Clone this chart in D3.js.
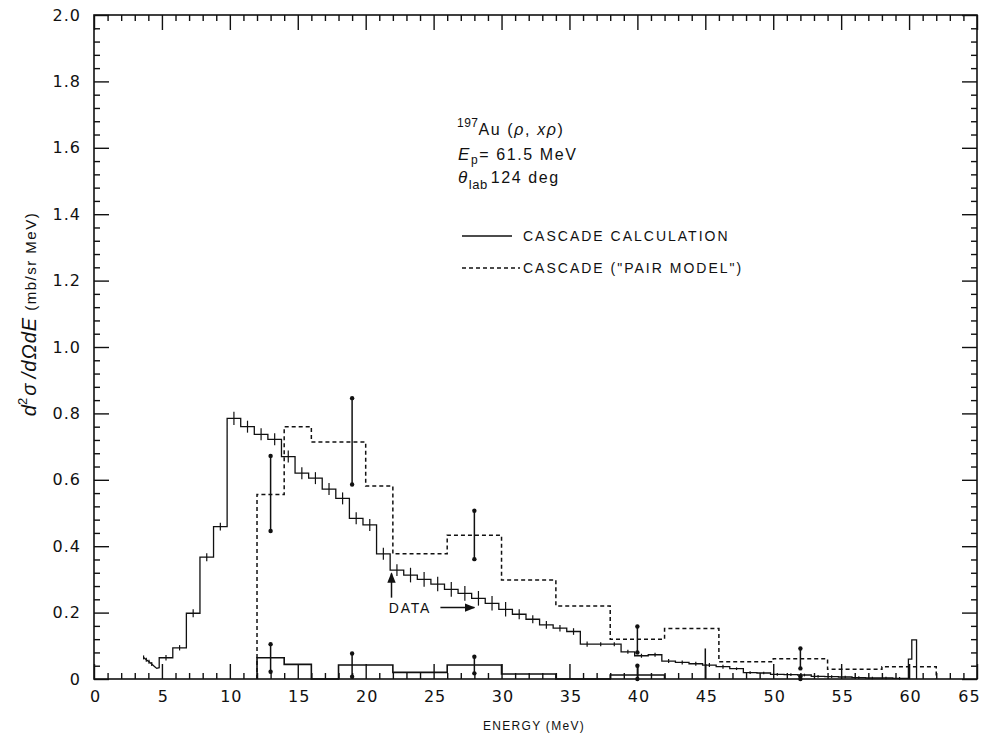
<!DOCTYPE html>
<html lang="en">
<head>
<meta charset="utf-8">
<title>197Au (p,xp) cascade</title>
<script type="text/javascript" src="https://cdnjs.cloudflare.com/ajax/libs/d3/7.8.5/d3.min.js" charset="utf-8"></script>
<style>
	body { margin: 0; background: #fff; }
	text { fill: #111; }
</style>
</head>
<body>
<script type="text/javascript">

// ticks
var xTicks = [0, 5, 10, 15, 20, 25, 30, 35, 40, 45, 50, 55, 60, 65];
var xTickLabels = ["0", "5", "10", "15", "20", "25", "30", "35", "40", "45", "50", "55", "60", "65"];
var yTicks = [0, 0.2, 0.4, 0.6, 0.8, 1.0, 1.2, 1.4, 1.6, 1.8, 2.0];
var yTickLabels = ["0", "0.2", "0.4", "0.6", "0.8", "1.0", "1.2", "1.4", "1.6", "1.8", "2.0"];

// measured spectrum (1 MeV bins), low edge of each bin
var dataBinLo = [4.8, 5.8, 6.8, 7.8, 8.8, 9.8, 10.8, 11.8, 12.8, 13.8,
	14.8, 15.8, 16.8, 17.8, 18.8, 19.8, 20.8, 21.8, 22.8, 23.8,
	24.8, 25.8, 26.8, 27.8, 28.8, 29.8, 30.8, 31.8, 32.8, 33.8,
	34.8, 35.8, 36.8, 37.8, 38.8, 39.8, 40.8, 41.8, 42.8, 43.8,
	44.8, 45.8, 46.8, 47.8, 48.8, 49.8, 50.8, 51.8, 52.8, 53.8,
	54.8, 55.8, 56.8, 57.8, 58.8];
var dataVal = [0.064, 0.094, 0.198, 0.367, 0.459, 0.785, 0.760, 0.737, 0.722, 0.670,
	0.620, 0.605, 0.572, 0.544, 0.484, 0.464, 0.377, 0.328, 0.313, 0.300,
	0.286, 0.270, 0.258, 0.243, 0.228, 0.210, 0.195, 0.180, 0.163, 0.153,
	0.143, 0.105, 0.105, 0.105, 0.082, 0.070, 0.073, 0.054, 0.050, 0.046,
	0.042, 0.037, 0.031, 0.019, 0.018, 0.014, 0.013, 0.012, 0.008, 0.007,
	0.006, 0.004, 0.003, 0.003, 0.002];
var dataErr = [0.008, 0.008, 0.012, 0.012, 0.012, 0.020, 0.018, 0.018, 0.018, 0.018,
	0.018, 0.018, 0.018, 0.018, 0.018, 0.018, 0.018, 0.018, 0.022, 0.022,
	0.022, 0.022, 0.022, 0.022, 0.022, 0.022, 0.015, 0.012, 0.012, 0.010,
	0.010, 0.008, 0.006, 0.006, 0.006, 0.006, 0.006, 0.006, 0.006, 0.006,
	0.006, 0.006, 0.004, 0.004, 0.004, 0.004, 0.004, 0.004, 0.004, 0.004,
	0.004, 0.004, 0.004, 0.004, 0.004];
// low energy tail below the first bin
var lowE = [3.65, 3.85, 4.05, 4.25, 4.45, 4.62, 4.8];
var lowVal = [0.065, 0.058, 0.052, 0.045, 0.038, 0.032, 0.034];
var lowErr = [0.006, 0.006, 0.006, 0.006, 0, 0, 0];
// elastic peak
var peakEdges = [59.95, 60.2, 60.55];
var peakVal = [0.060, 0.118];

// cascade calculation (solid)
var cascEdges = [12, 14, 16, 18, 22, 26, 30, 34, 38, 42];
var cascVal = [0.064, 0.044, 0, 0.042, 0.020, 0.042, 0.015, 0, 0.012];
var cascErrX = [13, 19, 28, 40, 52];
var cascErrLo = [0.022, 0.007, 0.017, 0, 0];
var cascErrHi = [0.105, 0.077, 0.067, 0.040, 0.008];
var cascBarX = [45];
var cascBarHi = [0.092];

// cascade pair model (dashed)
var pairEdges = [12, 14, 16, 20, 22, 26, 30, 34, 38, 42, 46, 50, 54, 58, 62];
var pairVal = [0.556, 0.760, 0.714, 0.581, 0.377, 0.433, 0.298, 0.220, 0.120, 0.152, 0.052, 0.061, 0.029, 0.037];
var pairErrX = [13, 19, 28, 40, 52];
var pairErrLo = [0.446, 0.586, 0.361, 0.080, 0.032];
var pairErrHi = [0.672, 0.846, 0.507, 0.158, 0.092];


var W = 983, H = 738;
var pLeft = 94, pRight = 977, pTop = 15, pBottom = 679;

var svg = d3.select("body")
	.append("svg")
	.attr("width", W)
	.attr("height", H)
	.style("font-family", "'Liberation Sans', Arial, sans-serif");

var x = d3.scaleLinear().domain([0, 65]).range([pLeft, pRight]);
var y = d3.scaleLinear().domain([0, 2]).range([pBottom, pTop]);

var xMinor = d3.range(0, 66).filter(function(d){ return d % 5 !== 0; });
var yMinor = d3.range(0, 51).filter(function(d){ return d % 5 !== 0; })
	.map(function(d){ return d * 0.04; });

function styleAxis(g){
	g.select(".domain").remove();
	g.selectAll("line").attr("stroke", "#111").attr("stroke-width", 1.4);
	g.selectAll("text")
		.attr("fill", "#222")
		.style("font-family", "'DejaVu Sans', sans-serif")
		.style("font-size", "16px")
		.style("letter-spacing", "1px");
}

// bottom
svg.append("g").attr("transform", "translate(0," + pBottom + ")")
	.call(d3.axisBottom(x).tickValues(xTicks).tickSizeInner(-15).tickSizeOuter(0).tickPadding(12)
		.tickFormat(function(d, i){ return xTickLabels[i]; }))
	.call(styleAxis)
	.call(function(g){
		g.selectAll(".tick text").attr("dx", function(d){ return d === 65 ? -8 : 1; });
	});
svg.append("g").attr("transform", "translate(0," + pBottom + ")")
	.call(d3.axisBottom(x).tickValues(xMinor).tickSizeInner(-6).tickSizeOuter(0).tickFormat(""))
	.call(styleAxis);
// top
svg.append("g").attr("transform", "translate(0," + pTop + ")")
	.call(d3.axisTop(x).tickValues(xTicks).tickSizeInner(-15).tickSizeOuter(0).tickFormat(""))
	.call(styleAxis);
svg.append("g").attr("transform", "translate(0," + pTop + ")")
	.call(d3.axisTop(x).tickValues(xMinor).tickSizeInner(-6).tickSizeOuter(0).tickFormat(""))
	.call(styleAxis);
// left
svg.append("g").attr("transform", "translate(" + pLeft + ",0)")
	.call(d3.axisLeft(y).tickValues(yTicks).tickSizeInner(-15).tickSizeOuter(0).tickPadding(13)
		.tickFormat(function(d, i){ return yTickLabels[i]; }))
	.call(styleAxis);
svg.append("g").attr("transform", "translate(" + pLeft + ",0)")
	.call(d3.axisLeft(y).tickValues(yMinor).tickSizeInner(-6).tickSizeOuter(0).tickFormat(""))
	.call(styleAxis);
// right
svg.append("g").attr("transform", "translate(" + pRight + ",0)")
	.call(d3.axisRight(y).tickValues(yTicks).tickSizeInner(-15).tickSizeOuter(0).tickFormat(""))
	.call(styleAxis);
svg.append("g").attr("transform", "translate(" + pRight + ",0)")
	.call(d3.axisRight(y).tickValues(yMinor).tickSizeInner(-6).tickSizeOuter(0).tickFormat(""))
	.call(styleAxis);

svg.append("rect")
	.attr("x", pLeft).attr("y", pTop)
	.attr("width", pRight - pLeft).attr("height", pBottom - pTop)
	.attr("fill", "none").attr("stroke", "#111").attr("stroke-width", 1.6);

var line = d3.line()
	.x(function(d){ return x(d[0]); })
	.y(function(d){ return y(d[1]); });

function stepPoints(edges, vals){
	var pts = [[edges[0], 0]];
	vals.forEach(function(v, i){
		pts.push([edges[i], v]);
		pts.push([edges[i + 1], v]);
	});
	pts.push([edges[edges.length - 1], 0]);
	return pts;
}

// measured spectrum
var dataPts = lowE.map(function(e, i){ return [e, lowVal[i]]; });
dataBinLo.forEach(function(lo, i){
	dataPts.push([lo, dataVal[i]]);
	dataPts.push([lo + 1, dataVal[i]]);
});
dataPts.push([peakEdges[0], dataVal[dataVal.length - 1]]);
peakVal.forEach(function(v, i){
	dataPts.push([peakEdges[i], v]);
	dataPts.push([peakEdges[i + 1], v]);
});
dataPts.push([peakEdges[peakEdges.length - 1], 0]);

svg.append("path")
	.attr("d", line(dataPts))
	.attr("fill", "none").attr("stroke", "#111").attr("stroke-width", 1.3);

var crosses = dataBinLo.map(function(lo, i){ return [lo + 0.5, dataVal[i], dataErr[i]]; })
	.concat(lowE.map(function(e, i){ return [e, lowVal[i], lowErr[i]]; }).filter(function(d){ return d[2] > 0; }));

svg.append("g").selectAll("line")
	.data(crosses)
	.enter()
	.append("line")
	.attr("x1", function(d){ return x(d[0]); })
	.attr("x2", function(d){ return x(d[0]); })
	.attr("y1", function(d){ return y(d[1] - d[2]); })
	.attr("y2", function(d){ return y(d[1] + d[2]); })
	.attr("stroke", "#111").attr("stroke-width", 1.2);

// cascade histogram
svg.append("path")
	.attr("d", line(stepPoints(cascEdges, cascVal)))
	.attr("fill", "none").attr("stroke", "#111").attr("stroke-width", 1.6);

// pair model histogram
svg.append("path")
	.attr("d", line(stepPoints(pairEdges, pairVal)))
	.attr("fill", "none").attr("stroke", "#111").attr("stroke-width", 1.5)
	.attr("stroke-dasharray", "4,3");

function errorBars(xs, los, his, dots){
	var g = svg.append("g");
	var rows = xs.map(function(e, i){ return [e, los[i], his[i]]; });
	g.selectAll("line")
		.data(rows)
		.enter()
		.append("line")
		.attr("x1", function(d){ return x(d[0]); })
		.attr("x2", function(d){ return x(d[0]); })
		.attr("y1", function(d){ return y(d[1]); })
		.attr("y2", function(d){ return y(d[2]); })
		.attr("stroke", "#111").attr("stroke-width", 1.5);
	if(dots){
		var ends = [];
		rows.forEach(function(d){
			ends.push([d[0], d[1]]);
			ends.push([d[0], d[2]]);
		});
		g.selectAll("circle")
			.data(ends)
			.enter()
			.append("circle")
			.attr("cx", function(d){ return x(d[0]); })
			.attr("cy", function(d){ return y(d[1]); })
			.attr("r", 2.2)
			.attr("fill", "#111");
	}
}

errorBars(pairErrX, pairErrLo, pairErrHi, true);
errorBars(cascErrX, cascErrLo, cascErrHi, true);
errorBars(cascBarX, [0], cascBarHi, false);

// annotation block
var note = svg.append("g").style("font-size", "16px").style("letter-spacing", "1.6px");

var t1 = note.append("text").attr("x", 457).attr("y", 135);
t1.append("tspan").attr("dy", -8).style("font-size", "12px").style("letter-spacing", "0.5px").text("197");
t1.append("tspan").attr("dy", 8).text("Au (");
t1.append("tspan").style("font-style", "italic").text("ρ");
t1.append("tspan").text(", ");
t1.append("tspan").style("font-style", "italic").text("xρ");
t1.append("tspan").text(")");

var t2 = note.append("text").attr("x", 458).attr("y", 160);
t2.append("tspan").style("font-style", "italic").style("font-size", "17px").text("E");
t2.append("tspan").attr("dy", 4).style("font-size", "12px").text("p");
t2.append("tspan").attr("dy", -4).text("= 61.5 MeV");

var t3 = note.append("text").attr("x", 458).attr("y", 183);
t3.append("tspan").style("font-style", "italic").style("font-size", "17px").text("θ");
t3.append("tspan").attr("dy", 6).style("font-size", "13px").style("letter-spacing", "0.5px").text("lab");
t3.append("tspan").attr("dy", -6).attr("dx", 3).text("124 deg");

var legendLabels = ["CASCADE CALCULATION", "CASCADE (\"PAIR MODEL\")"];
var legendDash = [null, "4,3"];
var legendY = [236, 268];
var legendLen = [50, 58];

legendLabels.forEach(function(lab, i){
	note.append("line")
		.attr("x1", 462).attr("x2", 462 + legendLen[i])
		.attr("y1", legendY[i]).attr("y2", legendY[i])
		.attr("stroke", "#111").attr("stroke-width", 1.3)
		.attr("stroke-dasharray", legendDash[i]);
	note.append("text")
		.attr("x", 523).attr("y", legendY[i] + 5)
		.style("font-size", "14px")
		.style("letter-spacing", "2px")
		.text(lab);
});

// DATA arrows
svg.append("defs").append("marker")
	.attr("id", "head")
	.attr("viewBox", "0 0 10 10")
	.attr("refX", 9).attr("refY", 5)
	.attr("markerWidth", 7).attr("markerHeight", 7)
	.attr("orient", "auto")
	.append("path").attr("d", "M0,1 L10,5 L0,9 Z").attr("fill", "#111");

svg.append("line")
	.attr("x1", x(21.9)).attr("x2", x(21.9))
	.attr("y1", y(0.245)).attr("y2", y(0.318))
	.attr("stroke", "#111").attr("stroke-width", 1.5)
	.attr("marker-end", "url(#head)");
svg.append("line")
	.attr("x1", x(25.5)).attr("x2", x(28.0))
	.attr("y1", y(0.215)).attr("y2", y(0.215))
	.attr("stroke", "#111").attr("stroke-width", 1.5)
	.attr("marker-end", "url(#head)");
svg.append("text")
	.attr("x", x(21.7)).attr("y", y(0.2))
	.style("font-size", "14px")
	.style("letter-spacing", "1.8px")
	.text("DATA");

// axis titles
svg.append("text")
	.attr("x", 534).attr("y", 730)
	.attr("text-anchor", "middle")
	.style("font-size", "12px")
	.style("letter-spacing", "1.3px")
	.text("ENERGY (MeV)");

var yt = svg.append("text")
	.attr("transform", "translate(36,314) rotate(-90)")
	.attr("text-anchor", "middle")
	.style("font-size", "15px");
yt.append("tspan").style("font-style", "italic").style("font-size", "20px").text("d");
yt.append("tspan").attr("dy", -9).style("font-size", "13px").text("2");
yt.append("tspan").attr("dy", 9).attr("dx", 2).style("font-style", "italic").style("font-size", "20px").text("σ /");
yt.append("tspan").attr("dx", 1).style("font-style", "italic").style("font-size", "20px").style("letter-spacing", "1px").text("dΩdE");
yt.append("tspan").attr("dx", 6).style("letter-spacing", "1.5px").text("(mb/sr  MeV)");

</script>
</body>
</html>
